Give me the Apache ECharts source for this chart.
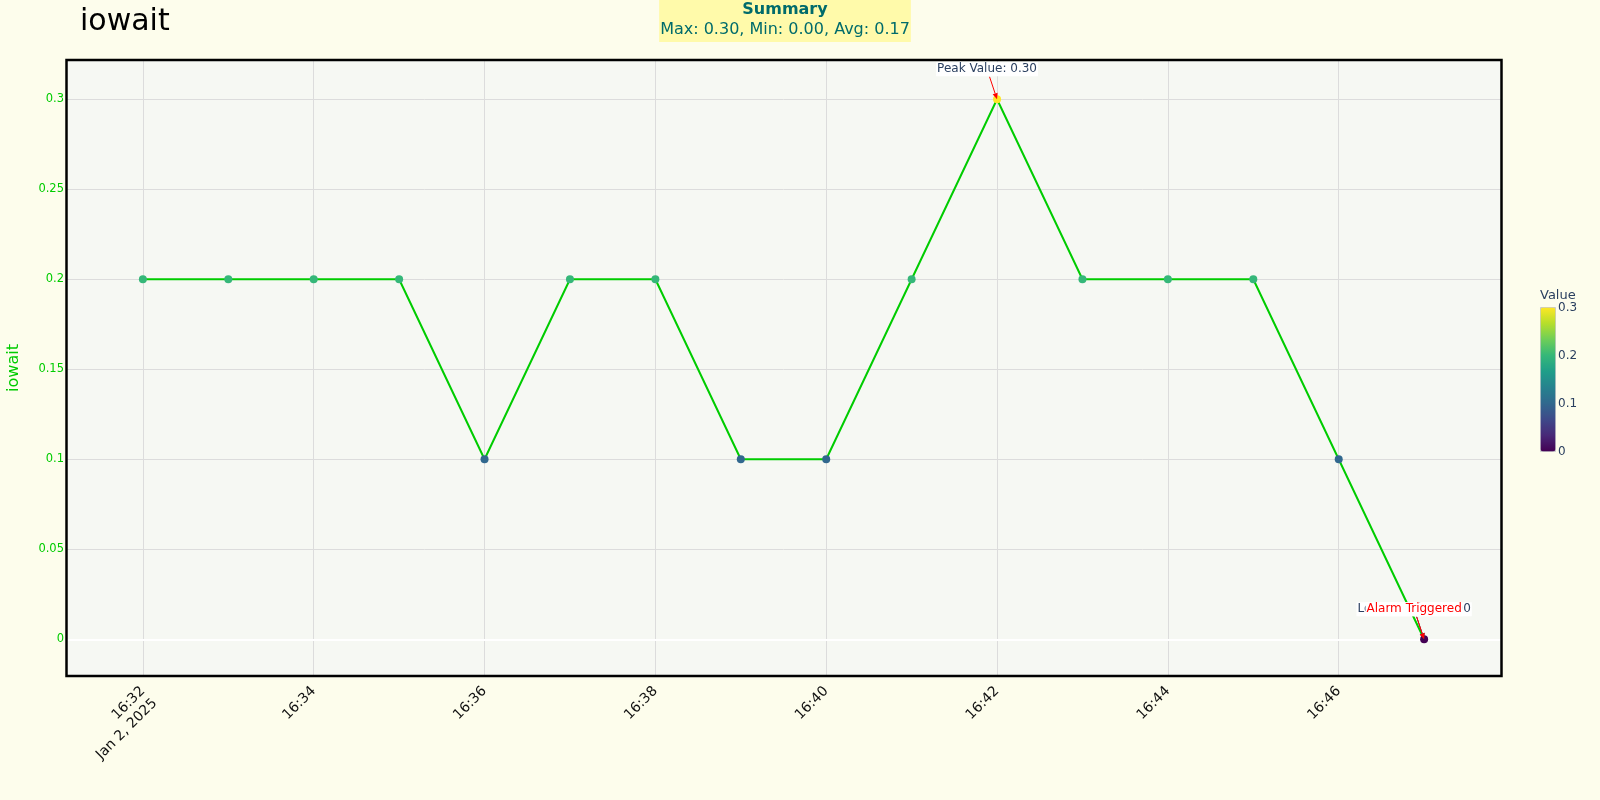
<!DOCTYPE html>
<html><head><meta charset="utf-8">
<script src="https://cdn.jsdelivr.net/npm/echarts@6/dist/echarts.min.js"></script>
<style>html,body{margin:0;padding:0;background:#fdfdec;}#c{width:1600px;height:800px;}</style>
</head><body><div id="c"></div>
<script>
// ---- data ----
const times = ['16:32','16:33','16:34','16:35','16:36','16:37','16:38','16:39','16:40','16:41','16:42','16:43','16:44','16:45','16:46','16:47'];
const iowait = [0.2,0.2,0.2,0.2,0.1,0.2,0.2,0.1,0.1,0.2,0.3,0.2,0.2,0.2,0.1,0.0];
const dateLabel = 'Jan 2, 2025';
const xRange = ['16:31:06','16:47:54'];
const yRange = [-0.0204, 0.3218];
const colorbarTicks = [0, 0.1, 0.2, 0.3];
const colorbarRange = [0, 0.3];
const chartTitle = 'iowait';
const yName = 'iowait';
const colorbarTitle = 'Value';
const annotations = [
  {time:'16:42', value:0.3, text:'Peak Value: 0.30', textColor:'#2a3f5f', arrowColor:'#ff0000'},
  {time:'16:47', value:0.0, text:'Lowest Value: 0.00', textColor:'#2a3f5f', arrowColor:'#2a3f5f'},
  {time:'16:47', value:0.0, text:'Alarm Triggered', textColor:'#ff0000', arrowColor:'#ff0000'}
];
const viridis = ['#440154','#482878','#3e4989','#31688e','#26828e','#1f9e89','#35b779','#6ece58','#b5de2b','#fde725'];

// ---- helpers ----
const FONT = 'DejaVu Sans';
function toMin(s){const p=s.split(':').map(Number);return p[0]*60+p[1]+(p[2]||0)/60;}
function fmtTime(v){const h=Math.floor(v/60),m=Math.round(v-h*60);return h+':'+String(m).padStart(2,'0');}
const isInt = v => Math.abs(v-Math.round(v))<1e-6;
const pts = times.map((t,i)=>[toMin(t), iowait[i]]);
const maxV = Math.max(...iowait), minV = Math.min(...iowait);
const avgV = iowait.reduce((a,b)=>a+b,0)/iowait.length;
const summaryText = 'Summary';
const summarySub = 'Max: '+maxV.toFixed(2)+', Min: '+minV.toFixed(2)+', Avg: '+avgV.toFixed(2);
const firstTick = toMin(times[0]);
const xMin = toMin(xRange[0]), xMax = toMin(xRange[1]);

const xBase = {type:'value', min:xMin, max:xMax, minInterval:2, maxInterval:2, splitNumber:8, position:'bottom',
  axisLine:{show:false}, axisTick:{show:false}};

const chart = echarts.init(document.getElementById('c'), null, {renderer:'canvas'});
chart.setOption({
  backgroundColor:'#fdfdec',
  animation:false,
  textStyle:{fontFamily:FONT},
  title:[
    {text:chartTitle, left:80, top:7, padding:0, textStyle:{fontFamily:FONT, fontSize:30, fontWeight:'normal', color:'#000'}},
    {text:summaryText, subtext:summarySub, left:784, top:0, padding:[0,1,1,1], itemGap:0,
     backgroundColor:'#fffaaa', textAlign:'center',
     textStyle:{fontFamily:FONT, fontSize:16, fontWeight:'bold', color:'#006b6b', lineHeight:19},
     subtextStyle:{fontFamily:FONT, fontSize:16, color:'#006b6b', lineHeight:22}}
  ],
  grid:{left:66, right:99, top:60, bottom:124, show:true, backgroundColor:'#f6f8f3', borderWidth:0,
    containLabel:false, outerBoundsMode:'none'},
  xAxis:[
    Object.assign({}, xBase, {
      axisLabel:{rotate:45, margin:13, fontSize:14, color:'#111', fontFamily:FONT, showMinLabel:false, showMaxLabel:false,
        formatter:v=> isInt(v) ? fmtTime(v) : ''},
      splitLine:{show:true, lineStyle:{color:'#dcdcdc', width:1}}}),
    Object.assign({}, xBase, {
      axisLabel:{rotate:45, margin:13, fontSize:14, lineHeight:34, verticalAlign:'top', color:'#111', fontFamily:FONT, showMinLabel:false, showMaxLabel:false,
        formatter:v=> (isInt(v) && Math.abs(v-firstTick)<1e-6) ? dateLabel : ''},
      splitLine:{show:false}})
  ],
  yAxis:{type:'value', min:yRange[0], max:yRange[1], minInterval:0.05, maxInterval:0.05, splitNumber:7,
    axisLine:{show:false}, axisTick:{show:false},
    axisLabel:{color:'#00cc00', fontSize:11.5, margin:2, fontFamily:FONT, showMinLabel:false, showMaxLabel:false},
    splitLine:{show:true, lineStyle:{color:'#dcdcdc', width:1}},
    name:yName, nameLocation:'middle', nameGap:44, nameTextStyle:{color:'#00cc00', fontSize:16, fontFamily:FONT}},
  visualMap:{type:'continuous', seriesIndex:1, dimension:1, min:colorbarRange[0], max:colorbarRange[1], calculable:false,
    left:1540, top:307, itemWidth:15, itemHeight:144, padding:0, showLabel:false,
    borderColor:'#c8c8c8', borderWidth:1, inRange:{color:viridis}},
  series:[
    {type:'line', data:pts, z:3, symbol:'none', lineStyle:{color:'#00cc00', width:2}, silent:true},
    {type:'scatter', data:pts, z:6, symbolSize:8, itemStyle:{opacity:1}, silent:true},
    {type:'line', data:[], z:1, silent:true,
      markLine:{z:1, silent:true, symbol:'none', label:{show:false}, lineStyle:{color:'#ffffff', width:2, type:'solid'}, data:[{yAxis:0}]}}
  ]
});

// ---- overlay graphics ----
const g = [];
const c0 = chart.convertToPixel({xAxisIndex:0, yAxisIndex:0}, [xMin, yRange[1]]);
const c1 = chart.convertToPixel({xAxisIndex:0, yAxisIndex:0}, [xMax, yRange[0]]);
g.push({type:'rect', z:40, shape:{x:c0[0]+0.5, y:c0[1], width:c1[0]-c0[0], height:c1[1]-c0[1]}, style:{fill:'none', stroke:'#000', lineWidth:2.5}});

const cbTop = 307, cbH = 144, cbLeft = 1540, cbW = 15;
g.push({type:'text', left:cbLeft, top:cbTop-18, style:{text:colorbarTitle, fill:'#2a3f5f', font:'13px '+FONT}});
colorbarTicks.forEach(t=>{
  const y = cbTop + cbH*(1-(t-colorbarRange[0])/(colorbarRange[1]-colorbarRange[0]));
  g.push({type:'text', x:cbLeft+cbW+3, y:y+1, style:{text:String(t), fill:'#2a3f5f', font:'12px '+FONT, verticalAlign:'middle', align:'left'}});
});
annotations.forEach(a=>{
  const p = chart.convertToPixel({xAxisIndex:0, yAxisIndex:0}, [toMin(a.time), a.value]);
  const cx = p[0]-10, cy = p[1]-30;
  const halfH = 7.5;
  const dx = p[0]-cx, dy = p[1]-cy, len = Math.hypot(dx,dy);
  const ux = dx/len, uy = dy/len;
  const sx = cx + ux*(halfH/uy), sy = cy + halfH;
  const hl = 6, hw = 2.6;
  const bx = p[0]-ux*hl, by = p[1]-uy*hl;
  g.push({type:'line', z:50, shape:{x1:sx, y1:sy, x2:bx, y2:by}, style:{stroke:a.arrowColor, lineWidth:1}});
  g.push({type:'polygon', z:50, shape:{points:[[p[0],p[1]],[bx-uy*hw, by+ux*hw],[bx+uy*hw, by-ux*hw]]}, style:{fill:a.arrowColor}});
  g.push({type:'text', z:51, x:cx, y:cy, style:{text:a.text, fill:a.textColor, font:'12px '+FONT, align:'center', verticalAlign:'middle', backgroundColor:'#ffffff', padding:[1,1,1,1]}});
});
chart.setOption({graphic:g});
</script></body></html>
